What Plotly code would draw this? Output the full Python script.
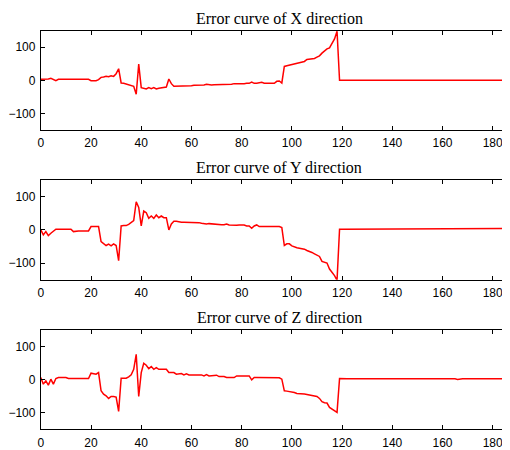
import plotly.graph_objects as go

# sample index (0..186)
idx = list(range(187))

err_x = ([3, 3, 3, 4, 6, 2, -1, 3, 3, 3,
          3, 3, 3, 3, 3, 3, 3, 3, 3, 3,
          -1, -1, -1, 2, 9, 10, 12, 11, 14, 12,
          20, 35, -8, -9, -11, -14, -16, -18, -42, 49,
          -22, -25, -26, -22, -25, -22, -26, -24, -22, -22,
          -20, 4, -10, -18, -18, -17, -16, -18, -18, -17,
          -16, -15, -15, -15, -14, -14, -12, -14, -14, -13,
          -13, -13, -13, -12, -13, -14, -12, -10, -10, -12,
          -12, -10, -9, -9, -5, -9, -9, -8, -6, -9,
          -9, -9, -9, -9, -3, -2, -8, 42, 44, 46,
          48, 49, 52, 54, 56, 57, 63, 64, 65, 66,
          70, 74, 82, 88, 95, 98, 113, 125, 148, 0]
         + [0] * 67)

err_y = ([0, -15, -5, -17, -10, -3, 2, 2, 2, 2,
          2, 2, 2, -5, -3, -3, -3, -3, -3, -3,
          10, 10, 10, 10, -35, -40, -47, -43, -48, -42,
          -47, -93, 12, 13, 13, 17, 22, 28, 85, 68,
          12, 57, 52, 35, 42, 35, 45, 37, 42, 37,
          37, 0, 18, 26, 26, 24, 23, 23, 23, 23,
          22, 22, 22, 22, 20, 18, 18, 19, 18, 17,
          16, 15, 16, 16, 18, 15, 14, 14, 14, 15,
          15, 15, 12, 12, 5, 12, 15, 10, 10, 10,
          10, 10, 10, 10, 10, 10, 7, -47, -42, -42,
          -48, -52, -54, -55, -56, -58, -62, -64, -68, -72,
          -76, -80, -95, -98, -100, -118, -128, -138, -152, 2,
          2, 2, 2, 2, 2, 2, 2, 2, 4, 4,
          3, 2, 2, 2, 2, 2, 2, 4, 4, 2,
          2, 2, 2, 4, 4, 2, 2, 2, 2, 2,
          2, 2, 2, 2, 2, 2, 2, 2, 2, 2,
          2, 4, 2, 2, 4, 4, 2, 2, 2, 2,
          4, 2, 2, 4, 2, 4, 4, 2, 4, 4,
          4, 2, 2, 4, 2, 4, 4])

err_z = ([6, -14, -4, -17, 1, -14, 3, 6, 6, 6,
          6, 3, 3, 3, 3, 3, 3, 3, 3, 3,
          19, 18, 16, 21, -34, -44, -49, -57, -51, -51,
          -53, -96, 4, 4, 4, 8, 14, 31, 76, -51,
          21, 49, 43, 33, 39, 31, 36, 31, 31, 31,
          31, 21, 21, 21, 16, 16, 18, 14, 17, 14,
          14, 16, 16, 15, 14, 11, 15, 11, 11, 13,
          13, 9, 9, 9, 6, 6, 6, 6, 11, 11,
          11, 11, 11, 11, -1, 6, 6, 6, 6, 6,
          6, 6, 6, 6, 5, 5, 1, -34, -35, -36,
          -36, -39, -42, -42, -44, -44, -45, -46, -47, -48,
          -51, -57, -67, -70, -71, -84, -89, -95, -99, 3,
          2, 2, 2, 2, 2, 2, 2, 2, 2, 2,
          2, 2, 2, 2, 2, 2, 2, 4, 4, 2,
          2, 2, 2, 4, 4, 4, 2, 4, 2, 2,
          2, 2, 2, 2, 2, 2, 2, 2, 2, 2,
          4, 2, 2, 2, 2, 2, 0, 2, 2, 2,
          2, 2, 2, 2, 2, 2, 2, 2, 2, 2,
          2, 2, 2, 2, 2, 2, 2])

titles = ["Error curve of X direction", "Error curve of Y direction", "Error curve of Z direction"]
x_ticks = [0, 20, 40, 60, 80, 100, 120, 140, 160, 180]
y_ticks = [-100, 0, 100]

# page body has an 8px margin, so the figure is sized to fit the 510x450 window
OFF = 8
W, H = 510 - OFF, 450 - OFF
series = [err_x, err_y, err_z]
tops = [31, 183, 335]      # window pixel positions of plot tops
plot_h = 101
left, right = 38, 509


def px(xp):
    return (xp - OFF) / W


def py(yp):
    return 1 - (yp - OFF) / H


fig = go.Figure()
tick_font = dict(family="Liberation Sans, Arial, sans-serif", size=12, color="black")

for i, vals in enumerate(series):
    n = i + 1
    fig.add_trace(go.Scatter(x=idx, y=vals, mode="lines",
                             line=dict(color="#ff0000", width=1.5),
                             xaxis="x" if n == 1 else f"x{n}",
                             yaxis="y" if n == 1 else f"y{n}",
                             showlegend=False, hoverinfo="skip"))
    top = tops[i]
    bot = top + plot_h
    xa = dict(domain=[px(left), min(1, px(right))], range=[0, 186.5],
              tickmode="array", tickvals=x_ticks, ticks="inside", ticklen=4,
              tickcolor="black", showline=True, linecolor="black", linewidth=1,
              mirror="ticks", showgrid=False, zeroline=False, tickfont=tick_font,
              ticklabelstandoff=2,
              anchor="y" if n == 1 else f"y{n}", fixedrange=True)
    ya = dict(domain=[py(bot), py(top)], range=[-150, 150],
              tickmode="array", tickvals=y_ticks, ticks="inside", ticklen=4,
              tickcolor="black", showline=True, linecolor="black", linewidth=1,
              mirror="ticks", showgrid=False, zeroline=False, tickfont=tick_font,
              ticklabelstandoff=2,
              anchor="x" if n == 1 else f"x{n}", fixedrange=True)
    fig.layout["xaxis" if n == 1 else f"xaxis{n}"] = xa
    fig.layout["yaxis" if n == 1 else f"yaxis{n}"] = ya
    fig.add_annotation(text=titles[i], xref="paper", yref="paper",
                       x=px(278), y=py(top - 12.5),
                       xanchor="center", yanchor="middle", showarrow=False,
                       font=dict(family="Liberation Serif, Times New Roman, serif",
                                 size=16, color="black"))

fig.update_layout(width=W, height=H, margin=dict(l=0, r=0, t=0, b=0),
                  paper_bgcolor="white", plot_bgcolor="white")

fig.write_html("out.html")
